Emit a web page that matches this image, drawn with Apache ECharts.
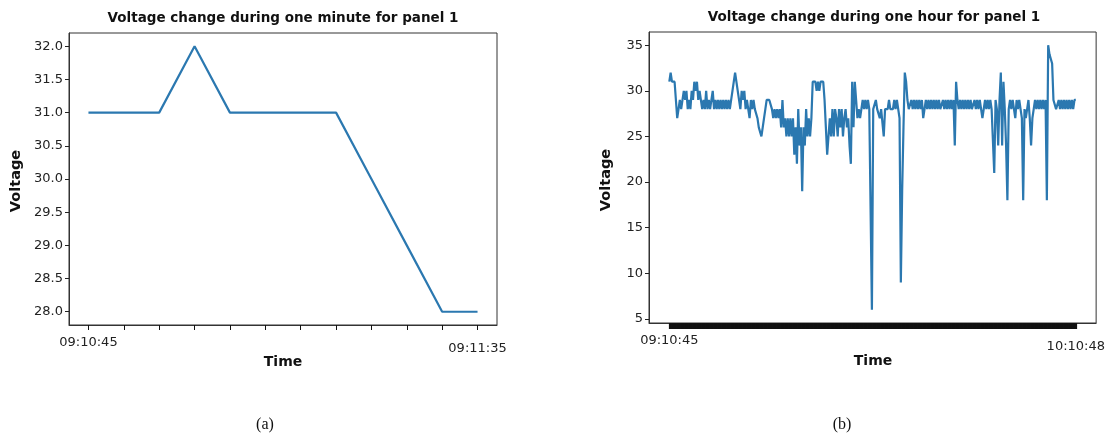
<!DOCTYPE html>
<html>
<head>
<meta charset="utf-8">
<script src="https://cdn.jsdelivr.net/npm/echarts@6/dist/echarts.min.js"></script>
<style>
  html, body { margin: 0; padding: 0; background: #fff; }
  #chart { width: 1108px; height: 441px; }
</style>
</head>
<body>
<div id="chart"></div>
<script>
// Panel 1 voltage, one reading per step over one minute
const minuteVoltage = [31, 31, 31, 32, 31, 31, 31, 31, 30, 29, 28, 28];
const minuteTickLabels = ['09:10:45', '09:11:35'];
const minuteYTicks = [28, 28.5, 29, 29.5, 30, 30.5, 31, 31.5, 32];

// Panel 1 voltage over one hour, split in consecutive stretches
const hourPart1 = [31, 32, 31, 31, 31, 29, 27, 28, 29, 28,
                   28, 30, 29, 30, 28, 29, 28, 30, 29, 31,
                   30, 31, 29, 30, 30, 28, 29, 28, 30, 28,
                   29, 28, 29, 30, 28, 29, 28, 29, 28, 29,
                   28, 29, 28, 29, 28, 29, 28, 29, 30, 31,
                   32, 32, 30, 29, 28, 30, 29, 30, 28, 29];
const hourPart2 = [28, 27, 29, 28, 29, 28, 28, 27, 26, 26,
                   25, 26, 27, 28, 29, 29, 29, 29, 28, 27,
                   28, 27, 28, 27, 28, 26, 29, 26, 27, 25,
                   27, 25, 27, 25, 27, 23, 26, 22, 28, 24,
                   26, 19, 26, 24, 28, 25, 27, 25, 27, 31];
const hourPart3 = [31, 31, 30, 31, 30, 31, 31, 31, 29, 26,
                   23, 23, 27, 25, 28, 25, 28, 27, 25, 28,
                   26, 28, 25, 27, 28, 26, 27, 24, 22, 31,
                   26, 31, 31, 27, 28, 27, 28, 29, 28, 29,
                   28, 29, 28, 28, 6, 28, 28, 29, 28, 28,
                   27, 28, 28, 25, 28, 28, 28, 29, 28, 28,
                   28, 29, 28, 29, 28, 27, 9, 19, 26, 32];
const hourPart4 = [31, 29, 28, 28, 29, 28, 29, 28, 29, 28,
                   29, 28, 29, 27, 28, 29, 28, 29, 28, 29,
                   28, 29, 28, 29, 28, 29, 28, 28, 29, 28,
                   29, 28, 29, 28, 29, 28, 29, 24, 31, 29,
                   28, 29, 28, 29, 28, 29, 28, 29, 28, 29,
                   28, 28, 29, 28, 29, 28, 29, 28, 27, 28,
                   29, 28, 29, 28, 29, 28];
const hourPart5 = [28, 21, 29, 28, 24, 29, 32, 24, 31, 28,
                   24, 18, 28, 29, 28, 29, 28, 27, 29, 28,
                   29, 28, 27, 18, 28, 27, 28, 29, 27, 24,
                   27, 28, 29, 28, 29, 28, 29, 28, 29, 28,
                   29, 18, 35, 34, 34, 33, 29, 29, 28, 28,
                   29, 28, 29, 28, 29, 28, 29, 28, 29, 28,
                   29, 28, 29, 29];
const hourVoltage = [].concat(hourPart1, hourPart2, hourPart3, hourPart4, hourPart5);
const hourTickLabels = ['09:10:45', '10:10:48'];
const hourYTicks = [5, 10, 15, 20, 25, 30, 35];

const lineColor = '#2b78b0';
const frameColor = '#333';
const tickFont = 'DejaVu Sans';
const tickSize = 13;

function indexList(n) {
  const out = [];
  for (let i = 0; i < n; i++) out.push(i);
  return out;
}

function timeAxis(gridIndex, values, labels, tickLen, tickWidth) {
  const last = values.length - 1;
  const pad = last * 0.05;
  return {
    type: 'value',
    gridIndex: gridIndex,
    min: -pad,
    max: last + pad,
    axisLine: { show: true, onZero: false, lineStyle: { color: frameColor, width: 1 } },
    splitLine: { show: false },
    axisTick: {
      show: true,
      length: tickLen,
      customValues: indexList(values.length),
      lineStyle: { color: '#111', width: tickWidth }
    },
    axisLabel: {
      show: true,
      customValues: [0, last],
      margin: 11,
      color: '#222',
      fontFamily: tickFont,
      fontSize: tickSize,
      formatter: function (v) {
        return v === 0 ? labels[0] : '{low|' + labels[1] + '}';
      },
      rich: { low: { padding: [6, 0, 0, 0], color: '#222', fontFamily: tickFont, fontSize: tickSize } }
    }
  };
}

function voltageAxis(gridIndex, min, max, ticks, digits) {
  return {
    type: 'value',
    gridIndex: gridIndex,
    min: min,
    max: max,
    axisLine: { show: true, onZero: false, lineStyle: { color: frameColor, width: 1 } },
    splitLine: { show: false },
    axisTick: { show: true, length: 4, customValues: ticks, lineStyle: { color: '#222' } },
    axisLabel: {
      show: true,
      customValues: ticks,
      margin: 6,
      color: '#222',
      fontFamily: tickFont,
      fontSize: tickSize,
      formatter: function (v) { return v.toFixed(digits); }
    }
  };
}

function text(str, x, y, size, opts) {
  return Object.assign({
    type: 'text',
    x: x,
    y: y,
    style: {
      text: str,
      fill: '#111',
      font: 'bold ' + size + 'px "DejaVu Sans"',
      textAlign: 'center',
      textVerticalAlign: 'middle'
    }
  }, opts || {});
}

const chart = echarts.init(document.getElementById('chart'), null, { renderer: 'canvas' });

chart.setOption({
  animation: false,
  backgroundColor: '#fff',
  grid: [
    { left: 69, top: 33, width: 428, height: 292, show: true, borderColor: frameColor, borderWidth: 1, backgroundColor: 'transparent' },
    { left: 649, top: 32, width: 450, height: 291, show: true, borderColor: frameColor, borderWidth: 1, backgroundColor: 'transparent' }
  ],
  xAxis: [
    timeAxis(0, minuteVoltage, minuteTickLabels, 5, 1),
    timeAxis(1, hourVoltage, hourTickLabels, 6, 2.2)
  ],
  yAxis: [
    voltageAxis(0, 27.8, 32.2, minuteYTicks, 1),
    voltageAxis(1, 4.55, 36.45, hourYTicks, 0)
  ],
  series: [
    {
      type: 'line',
      xAxisIndex: 0,
      yAxisIndex: 0,
      data: minuteVoltage.map(function (v, i) { return [i, v]; }),
      showSymbol: false,
      lineStyle: { color: lineColor, width: 2.2 }
    },
    {
      type: 'line',
      xAxisIndex: 1,
      yAxisIndex: 1,
      data: hourVoltage.map(function (v, i) { return [i, v]; }),
      showSymbol: false,
      lineStyle: { color: lineColor, width: 2.2 }
    }
  ],
  graphic: [
    text('Voltage change during one minute for panel 1', 283, 18, 13.5),
    text('Voltage change during one hour for panel 1', 874, 17, 13.5),
    text('Time', 283, 362, 14),
    text('Time', 873, 361, 14),
    text('Voltage', 16, 181, 14.5, { rotation: Math.PI / 2 }),
    text('Voltage', 606, 180, 14.5, { rotation: Math.PI / 2 }),
    {
      type: 'text', x: 265, y: 425,
      style: { text: '(a)', fill: '#111', font: '16px "Liberation Serif"', textAlign: 'center', textVerticalAlign: 'middle' }
    },
    {
      type: 'text', x: 842, y: 425,
      style: { text: '(b)', fill: '#111', font: '16px "Liberation Serif"', textAlign: 'center', textVerticalAlign: 'middle' }
    }
  ]
});
</script>
</body>
</html>
